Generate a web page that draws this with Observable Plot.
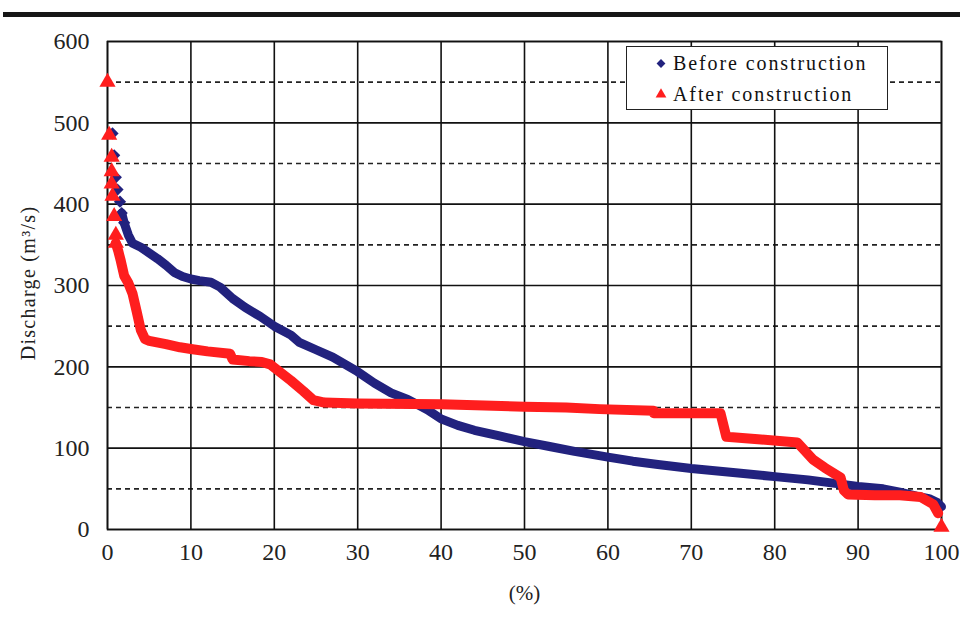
<!DOCTYPE html>
<html>
<head>
<meta charset="utf-8">
<script src="https://cdn.jsdelivr.net/npm/d3@7"></script>
<script src="https://cdn.jsdelivr.net/npm/@observablehq/plot@0.6"></script>
<style>
  html, body { margin: 0; padding: 0; background: #fff; }
  #wrap { position: relative; width: 960px; height: 618px; overflow: hidden; }
  #bar { position: absolute; left: 3px; right: 0; top: 12px; height: 5px; background: #161616; }
  #legend { position: absolute; left: 626px; top: 46px; width: 260px; height: 62px;
            border: 1.5px solid #222; background: #fff;
            font-family: "Liberation Serif", serif; font-size: 20px; color: #111; letter-spacing: 1.9px; }
  .row { position: absolute; left: 0; height: 24px; line-height: 24px; white-space: nowrap; }
  .row svg { position: absolute; left: 28px; top: 6px; }
  .row span { position: absolute; left: 46px; }
</style>
</head>
<body>
<div id="wrap">
  <div id="chart"></div>
  <div id="bar"></div>
  <div id="legend"></div>
</div>
<script>
// ---- data (exceedance %, discharge m3/s) ----
const beforePct = [0.6, 0.8, 1.0, 1.2, 1.5, 1.7, 2.0, 2.5, 3.0, 4.0, 5.0, 6.0, 7.0, 8.0, 9.0, 10.0, 11.0, 12.4, 13.5, 15.0, 16.5, 18.3, 20.0, 22.0, 23.0, 25.0, 27.0, 28.5, 30.0, 32.0, 34.0, 36.0, 38.4, 40.0, 42.0, 44.0, 47.0, 50.0, 53.0, 56.0, 60.0, 63.0, 66.0, 70.0, 75.0, 80.0, 84.0, 87.0, 90.0, 93.0, 95.0, 97.0, 98.5, 99.5, 100.0];
const beforeQ   = [487, 460, 433, 418, 403, 389, 377, 362, 352, 347, 340, 333, 325, 316, 311, 308, 306, 304, 298, 284, 273, 262, 250, 239, 230, 221, 212, 203, 194, 180, 168, 160, 147, 136, 128, 122, 115, 108, 102, 96, 89, 84, 80, 75, 70, 65, 61, 57, 53, 50, 46, 41, 38, 33, 28];

const afterPct = [0.0, 0.2, 0.5, 0.5, 0.5, 0.6, 0.8, 1.0, 1.0, 1.3, 1.6, 2.0, 2.5, 3.0, 3.5, 4.0, 4.5, 5.0, 7.0, 8.7, 10.0, 12.0, 14.7, 15.0, 17.0, 18.5, 19.5, 20.5, 22.0, 23.5, 24.7, 26.0, 30.0, 40.0, 50.0, 55.0, 59.0, 65.5, 65.5, 73.5, 74.2, 78.0, 82.7, 84.6, 86.0, 87.9, 88.3, 88.8, 92.0, 95.0, 97.5, 99.0, 99.6, 100.0];
const afterQ   = [550, 485, 458, 440, 425, 410, 385, 362, 352, 342, 330, 312, 303, 290, 268, 245, 234, 232, 228, 224, 222, 219, 216, 209, 207, 206, 203, 195, 183, 170, 159, 156, 155, 154, 151, 150, 148, 146, 143, 143, 114, 111, 107, 86, 76, 64, 48, 43, 42, 42, 40, 31, 20, 3];

const xTicks = [0, 10, 20, 30, 40, 50, 60, 70, 80, 90, 100];
const yMajor = [0, 100, 200, 300, 400, 500, 600];
const yMinor = [50, 150, 250, 350, 450, 550];
const seriesNames = ["Before construction", "After construction"];

// ---- build tables ----
const before = beforePct.map((p, i) => ({p, q: beforeQ[i]}));
const after = afterPct.map((p, i) => ({p, q: afterQ[i]}));
const beforeLine = before.filter(d => d.q < 395);
const beforeTop = before.filter(d => d.q >= 375);
const afterLine = after.filter((d, i) => i >= 8 && i < after.length - 1);
const afterTop = after.filter((d, i) => i <= 8 || i === after.length - 1);

const NAVY = "#22227e";
const RED = "#ff1e1e";

const chart = Plot.plot({
  width: 960,
  height: 618,
  marginTop: 41,
  marginLeft: 107,
  marginRight: 19,
  marginBottom: 89,
  style: {fontFamily: "'Liberation Serif', serif", fontSize: "24px", color: "#222", background: "transparent"},
  x: {domain: [0, 100], ticks: xTicks, tickSize: 0, tickPadding: 13, label: "(%)", labelAnchor: "center", labelArrow: "none", labelOffset: 70},
  y: {domain: [0, 600], ticks: yMajor, tickSize: 0, tickPadding: 18, label: null},
  marks: [
    Plot.ruleY(yMinor, {stroke: "#222", strokeWidth: 1.6, strokeDasharray: "5,4"}),
    Plot.ruleY(yMajor, {stroke: "#111", strokeWidth: 1.6}),
    Plot.ruleX(xTicks, {stroke: "#111", strokeWidth: 1.6}),
    Plot.frame({stroke: "#111", strokeWidth: 1.6}),
    Plot.line(beforeLine, {x: "p", y: "q", stroke: NAVY, strokeWidth: 9, strokeLinejoin: "round", strokeLinecap: "round"}),
    Plot.dot(beforeTop, {x: "p", y: "q", symbol: "diamond2", r: 5.5, fill: NAVY}),
    Plot.line(afterLine, {x: "p", y: "q", stroke: RED, strokeWidth: 10, strokeLinejoin: "round", strokeLinecap: "round"}),
    Plot.dot(afterTop, {x: "p", y: "q", symbol: "triangle", r: 6, fill: RED})
  ]
});
// y axis label, rotated
d3.select(chart).append("text")
  .attr("transform", "translate(35,283) rotate(-90)")
  .attr("text-anchor", "middle")
  .attr("font-family", "'Liberation Serif', serif")
  .attr("font-size", 20)
  .attr("letter-spacing", 1.3)
  .attr("fill", "#222")
  .text("Discharge (m³/s)");
// x label styling
d3.select(chart).selectAll("[aria-label='x-axis label'] text").attr("font-size", 21);
document.getElementById("chart").appendChild(chart);

// ---- legend ----
const legend = d3.select("#legend");
const rows = [{name: seriesNames[0], color: NAVY, sym: d3.symbolDiamond2, top: 4},
              {name: seriesNames[1], color: RED, sym: d3.symbolTriangle, top: 35}];
rows.forEach(r => {
  const row = legend.append("div").attr("class", "row").style("top", r.top + "px").style("width", "100%");
  const s = row.append("svg").attr("width", 12).attr("height", 12);
  s.append("path").attr("transform", "translate(6,6.5)").attr("d", d3.symbol(r.sym, 50)()).attr("fill", r.color);
  row.append("span").text(r.name);
});
</script>
</body>
</html>
